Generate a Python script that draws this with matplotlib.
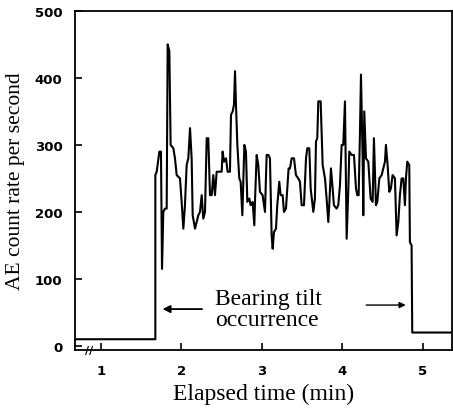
import matplotlib.pyplot as plt

trace = [
    (0.68, 10), (1.675, 10), (1.675, 255), (1.692, 260), (1.725, 290), (1.745, 290),
    (1.758, 115), (1.774, 200), (1.795, 205), (1.816, 205), (1.828, 450), (1.849, 440),
    (1.865, 300), (1.899, 295), (1.919, 280), (1.940, 255), (1.981, 250), (2.002, 215),
    (2.023, 175), (2.043, 210), (2.064, 270), (2.085, 280), (2.106, 325), (2.126, 280),
    (2.139, 195), (2.168, 175), (2.188, 185), (2.209, 195), (2.230, 200), (2.251, 225),
    (2.271, 190), (2.292, 200), (2.313, 310), (2.333, 310), (2.354, 225), (2.375, 225),
    (2.395, 255), (2.416, 225), (2.437, 260), (2.478, 260), (2.499, 260), (2.511, 290),
    (2.528, 275), (2.553, 280), (2.573, 260), (2.602, 260), (2.615, 345), (2.636, 350),
    (2.652, 360), (2.665, 410), (2.677, 360), (2.694, 300), (2.718, 250), (2.735, 245),
    (2.756, 195), (2.781, 300), (2.801, 290), (2.818, 215), (2.843, 220), (2.859, 210),
    (2.884, 215), (2.905, 180), (2.913, 215), (2.934, 285), (2.954, 270), (2.975, 230),
    (3.008, 225), (3.037, 200), (3.058, 285), (3.079, 285), (3.099, 280), (3.120, 165),
    (3.133, 145), (3.149, 170), (3.174, 175), (3.190, 210), (3.215, 245), (3.232, 225),
    (3.257, 225), (3.273, 200), (3.298, 205), (3.315, 235), (3.331, 265), (3.348, 265),
    (3.369, 280), (3.398, 280), (3.422, 255), (3.451, 250), (3.472, 245), (3.493, 210),
    (3.522, 210), (3.547, 280), (3.563, 295), (3.588, 295), (3.605, 235), (3.638, 200),
    (3.658, 220), (3.671, 305), (3.687, 310), (3.700, 365), (3.729, 365), (3.754, 270),
    (3.783, 250), (3.803, 220), (3.824, 185), (3.836, 210), (3.857, 265), (3.878, 235),
    (3.894, 210), (3.927, 205), (3.948, 210), (3.969, 240), (3.990, 300), (4.010, 300),
    (4.031, 365), (4.052, 160), (4.072, 230), (4.085, 290), (4.114, 285), (4.143, 285),
    (4.168, 235), (4.184, 225), (4.201, 225), (4.217, 315), (4.230, 405), (4.251, 280),
    (4.259, 195), (4.271, 350), (4.292, 280), (4.321, 275), (4.350, 220), (4.375, 215),
    (4.391, 310), (4.416, 210), (4.433, 215), (4.458, 250), (4.487, 255), (4.507, 265),
    (4.528, 275), (4.540, 300), (4.561, 270), (4.582, 230), (4.602, 235), (4.623, 255),
    (4.652, 250), (4.673, 165), (4.694, 185), (4.714, 225), (4.735, 250), (4.756, 250),
    (4.776, 210), (4.789, 250), (4.805, 275), (4.830, 270), (4.838, 155), (4.859, 150),
    (4.867, 20), (5.36, 20),
]
t_min = [p[0] for p in trace]
aecount = [p[1] for p in trace]
xticks = [1, 2, 3, 4, 5]
yticks = [0, 100, 200, 300, 400, 500]

fig = plt.figure(figsize=(4.53, 4.10), dpi=100)
ax = fig.add_axes([0.1656, 0.144, 0.832, 0.827])
ax.plot(t_min, aecount, color='black', lw=1.5)
ax.set_xlim(0.677, 5.36)
ax.set_ylim(-6, 500)
ax.set_xticks(xticks)
ax.set_yticks(yticks)
ax.tick_params(direction='in', length=5, width=1.2)
ax.tick_params(axis='y', pad=9)
ax.tick_params(axis='x', pad=10)
for lab in ax.get_xticklabels() + ax.get_yticklabels():
    lab.set_fontweight('bold')
    lab.set_fontsize(9.5)
for s in ax.spines.values():
    s.set_linewidth(1.3)

# axis break marks
ax.text(0.85, -6, '//', ha='center', va='center', fontsize=8, fontweight='bold',
        clip_on=False)

# annotation
ax.text(2.42, 55, 'Bearing tilt\noccurrence', family='Liberation Serif', fontsize=17,
        ha='left', va='center', linespacing=0.95)
ax.annotate('', xy=(1.73, 55), xytext=(2.29, 55),
            arrowprops=dict(arrowstyle='-|>', color='black', lw=1.3, mutation_scale=11))
ax.annotate('', xy=(4.82, 61), xytext=(4.26, 61),
            arrowprops=dict(arrowstyle='-|>', color='black', lw=1.0, mutation_scale=9))

ax.set_xlabel('Elapsed time (min)', family='Liberation Serif', fontsize=17, labelpad=4)
ax.set_ylabel('AE count rate per second', family='Liberation Serif', fontsize=15.5,
              labelpad=7)

fig.savefig('out.png', dpi=100)
